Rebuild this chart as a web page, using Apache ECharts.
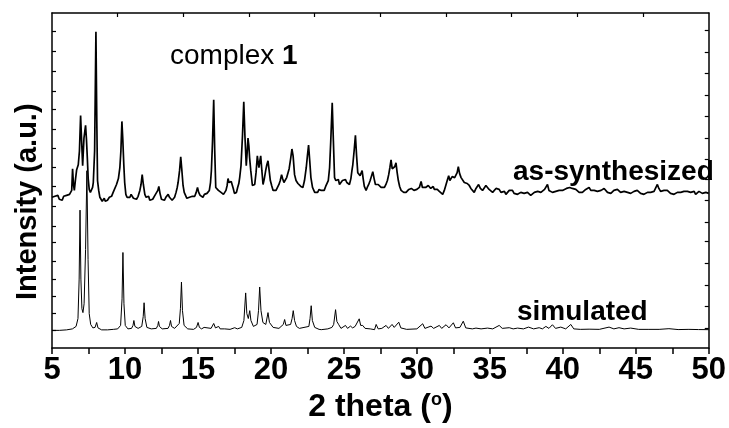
<!DOCTYPE html>
<html>
<head>
<meta charset="utf-8">
<script src="https://cdn.jsdelivr.net/npm/echarts@6/dist/echarts.min.js"></script>
<style>html,body{margin:0;padding:0;background:#fff}#c{width:729px;height:428px}</style>
</head>
<body>
<div id="c"></div>
<script>
// ---- data: [2 theta, intensity (offset, arbitrary units)] ----
const xTicks = [5, 10, 15, 20, 25, 30, 35, 40, 45, 50];
const asSynthesized = [
[5.00,153],[5.10,151],[5.20,154],[5.30,152],[5.40,155],[5.50,151],[5.60,153],[5.70,150],[5.80,154],[5.90,152],
[6.00,155],[6.10,153],[6.20,156],[6.30,158],[6.35,160],[6.41,182],[6.47,166],[6.53,160],[6.60,170],[6.69,181],
[6.80,186],[6.88,200],[6.96,236],[7.03,210],[7.10,185],[7.19,213],[7.30,226],[7.36,212],[7.42,193],[7.48,172],
[7.55,161],[7.63,158],[7.71,160],[7.78,163],[7.83,168],[7.92,200],[8.01,321],[8.07,230],[8.12,170],[8.20,160],
[8.28,153],[8.36,151],[8.44,149],[8.51,150],[8.58,152],[8.65,149],[8.72,151],[8.80,150],[8.85,151],[8.93,153],
[9.00,151],[9.08,154],[9.19,158],[9.30,160],[9.42,166],[9.55,172],[9.65,183],[9.72,200],[9.79,230],[9.85,212],
[9.92,186],[9.98,168],[10.06,156],[10.14,153],[10.22,155],[10.34,153],[10.42,156],[10.50,156],[10.58,152],[10.68,154],
[10.79,151],[10.90,154],[11.02,160],[11.10,166],[11.18,176],[11.26,166],[11.36,156],[11.45,153],[11.55,151],[11.62,154],
[11.70,150],[11.80,152],[11.90,151],[11.98,153],[12.05,155],[12.15,156],[12.25,160],[12.32,164],[12.40,157],[12.50,151],
[12.60,152],[12.70,150],[12.80,153],[12.88,154],[12.96,156],[13.05,153],[13.15,152],[13.23,150],[13.30,151],[13.40,153],
[13.50,158],[13.58,163],[13.64,168],[13.74,180],[13.82,194],[13.90,180],[13.98,165],[14.06,158],[14.15,155],[14.24,152],
[14.32,151],[14.42,153],[14.52,152],[14.62,154],[14.70,153],[14.78,154],[14.88,158],[14.97,163],[15.05,158],[15.15,155],
[15.24,155],[15.34,153],[15.44,156],[15.55,155],[15.62,157],[15.69,156],[15.78,160],[15.86,168],[15.92,180],[16.00,210],
[16.08,252],[16.15,200],[16.22,163],[16.30,162],[16.40,160],[16.49,160],[16.58,158],[16.66,159],[16.75,156],[16.83,156],
[16.92,160],[17.00,165],[17.06,172],[17.13,168],[17.20,166],[17.28,169],[17.33,168],[17.42,162],[17.50,157],[17.56,155],
[17.64,158],[17.72,163],[17.80,167],[17.86,173],[17.95,185],[18.05,215],[18.14,250],[18.22,215],[18.31,185],[18.37,198],
[18.43,213],[18.49,205],[18.54,193],[18.62,180],[18.73,165],[18.81,164],[18.89,166],[18.98,178],[19.07,195],[19.13,188],
[19.18,183],[19.24,190],[19.30,195],[19.38,180],[19.46,166],[19.55,172],[19.64,180],[19.72,186],[19.80,190],[19.88,180],
[19.96,170],[20.05,165],[20.15,160],[20.26,158],[20.35,160],[20.45,163],[20.55,166],[20.64,170],[20.73,176],[20.80,172],
[20.89,168],[20.98,170],[21.08,173],[21.16,175],[21.25,182],[21.35,192],[21.44,202],[21.52,195],[21.62,176],[21.72,170],
[21.85,167],[21.95,166],[22.05,164],[22.19,163],[22.30,170],[22.42,183],[22.50,195],[22.58,206],[22.66,190],[22.74,173],
[22.85,163],[23.00,158],[23.10,160],[23.20,158],[23.30,161],[23.45,160],[23.55,162],[23.65,160],[23.75,164],[23.83,164],
[23.93,170],[24.02,183],[24.10,210],[24.20,249],[24.28,210],[24.36,173],[24.45,170],[24.55,168],[24.62,171],[24.70,166],
[24.80,168],[24.90,170],[25.00,168],[25.11,171],[25.20,168],[25.30,167],[25.38,166],[25.48,172],[25.55,180],[25.61,186],
[25.70,200],[25.79,216],[25.87,195],[25.95,178],[26.03,176],[26.11,175],[26.18,176],[26.25,180],[26.32,172],[26.40,164],
[26.52,160],[26.60,163],[26.70,166],[26.80,170],[26.90,175],[26.98,179],[27.07,172],[27.16,166],[27.25,164],[27.35,166],
[27.44,164],[27.55,163],[27.65,165],[27.78,163],[27.88,166],[27.98,170],[28.07,176],[28.15,183],[28.23,191],[28.31,182],
[28.39,180],[28.48,184],[28.57,188],[28.65,178],[28.73,170],[28.82,164],[28.92,160],[29.00,159],[29.10,158],[29.18,160],
[29.26,158],[29.35,160],[29.45,161],[29.55,159],[29.62,162],[29.71,161],[29.80,160],[29.90,162],[30.00,161],[30.08,163],
[30.17,163],[30.29,169],[30.38,163],[30.51,161],[30.60,163],[30.70,162],[30.78,165],[30.85,166],[30.95,162],[31.05,161],
[31.12,164],[31.20,161],[31.30,160],[31.40,161],[31.54,159],[31.65,157],[31.77,156],[31.88,160],[32.00,166],[32.10,171],
[32.18,175],[32.26,170],[32.34,171],[32.42,174],[32.50,176],[32.59,173],[32.68,173],[32.76,178],[32.84,184],[32.93,177],
[33.03,173],[33.12,171],[33.25,168],[33.35,166],[33.45,167],[33.59,165],[33.70,162],[33.80,160],[33.93,158],[34.05,162],
[34.15,164],[34.23,166],[34.35,162],[34.50,160],[34.62,162],[34.73,165],[34.84,164],[34.95,161],[35.05,159],[35.19,158],
[35.30,160],[35.42,162],[35.52,160],[35.64,161],[35.76,158],[35.88,157],[36.00,159],[36.10,156],[36.22,158],[36.33,160],
[36.45,158],[36.55,160],[36.66,157],[36.78,158],[36.90,156],[37.00,156],[37.12,158],[37.23,160],[37.35,157],[37.47,159],
[37.58,158],[37.70,157],[37.80,155],[37.92,156],[38.05,158],[38.15,157],[38.28,159],[38.38,160],[38.50,158],[38.62,160],
[38.75,161],[38.85,163],[38.95,166],[39.05,160],[39.17,159],[39.29,158],[39.40,157],[39.52,159],[39.63,160],[39.75,160],
[39.86,158],[39.98,160],[40.10,161],[40.25,162],[40.38,161],[40.47,163],[40.55,165],[40.65,162],[40.77,160],[40.89,161],
[41.00,160],[41.12,158],[41.22,159],[41.34,158],[41.45,160],[41.57,161],[41.68,159],[41.80,163],[41.92,160],[42.05,158],
[42.15,160],[42.26,158],[42.37,159],[42.50,161],[42.62,160],[42.72,162],[42.83,162],[42.95,160],[43.06,158],[43.18,159],
[43.29,157],[43.39,158],[43.50,160],[43.62,159],[43.74,161],[43.85,160],[43.96,158],[44.08,160],[44.20,159],[44.31,160],
[44.43,158],[44.54,159],[44.65,157],[44.76,157],[44.88,159],[45.00,158],[45.10,160],[45.22,158],[45.33,157],[45.45,158],
[45.56,156],[45.68,156],[45.80,158],[45.91,157],[46.02,158],[46.13,157],[46.25,159],[46.38,161],[46.48,166],[46.58,162],
[46.70,159],[46.82,158],[46.94,160],[47.05,158],[47.16,160],[47.27,159],[47.38,157],[47.50,158],[47.62,156],[47.73,156],
[47.85,158],[47.96,157],[48.08,158],[48.19,157],[48.30,159],[48.42,160],[48.54,159],[48.64,161],[48.76,158],[48.88,157],
[49.00,159],[49.10,156],[49.22,157],[49.33,159],[49.44,157],[49.56,157],[49.68,158],[49.80,158],[50.00,157]
];
const simulated = [
[5.00,18],[5.50,18],[6.00,18.5],[6.40,19.5],[6.65,22],[6.78,30],[6.86,70],[6.92,140],[6.98,70],[7.05,40],
[7.12,36],[7.20,45],[7.30,100],[7.39,180],[7.47,90],[7.55,35],[7.65,24],[7.80,20.5],[7.95,21],[8.06,26],
[8.15,20.5],[8.40,18.5],[8.80,18.5],[9.20,19],[9.50,19.5],[9.70,23],[9.80,50],[9.86,97],[9.93,45],[10.02,23],
[10.20,19.5],[10.45,20],[10.55,23],[10.61,28],[10.68,22],[10.90,20],[11.15,22],[11.25,32],[11.31,46],[11.38,30],
[11.50,21],[11.80,19.5],[12.15,20],[12.25,23],[12.30,27],[12.36,22],[12.55,19.5],[12.95,20],[13.05,23],[13.12,28],
[13.19,22],[13.40,20],[13.72,25],[13.80,40],[13.87,67],[13.94,38],[14.05,23],[14.30,19.5],[14.70,19],[14.90,21],
[15.01,26],[15.10,21],[15.25,19.5],[15.42,21],[15.55,19.5],[15.90,20],[16.08,25],[16.20,20.5],[16.33,20.5],[16.42,22],
[16.52,19.5],[16.83,19.5],[17.20,19],[17.52,20.7],[17.70,19.5],[18.00,21],[18.15,28],[18.27,56],[18.35,35],[18.45,30],
[18.55,38],[18.63,28],[18.80,22],[19.05,24],[19.15,38],[19.23,62],[19.32,38],[19.45,26],[19.65,24],[19.80,36],
[19.90,26],[20.03,28],[20.15,21],[20.55,20],[20.85,24],[20.94,29],[21.03,23],[21.35,24],[21.45,30],[21.53,38],
[21.62,28],[21.75,22],[21.80,24],[21.95,20],[22.60,22],[22.68,30],[22.76,43],[22.84,28],[23.00,21],[23.30,19],
[23.45,18.7],[23.90,19.5],[24.18,21],[24.30,24],[24.43,39],[24.52,27],[24.65,23.7],[24.80,20],[25.11,23],[25.25,20],
[25.45,22.3],[25.60,20.5],[25.77,22],[25.90,21],[26.05,29.7],[26.15,23],[26.29,23],[26.45,20],[26.80,19.5],[27.10,18.7],
[27.21,24],[27.35,19.5],[27.60,20],[27.89,23],[28.05,20],[28.30,24],[28.45,21],[28.76,26.3],[28.90,20.5],[29.30,19],
[30.00,19.5],[30.40,24.7],[30.55,20],[30.97,22.3],[31.15,20],[31.54,23],[31.70,20],[32.00,23.7],[32.20,20.5],[32.50,25.7],
[32.65,20.5],[32.95,21],[33.18,27.3],[33.35,20.5],[33.80,19.5],[34.05,20.3],[34.40,19.5],[34.84,20.3],[35.20,19.5],[35.64,23],
[35.85,20],[36.33,20.7],[36.60,19.5],[36.90,20.3],[37.30,19.5],[37.65,21.3],[38.00,19.5],[38.38,20.7],[38.60,19.5],[38.84,22],
[39.05,20],[39.29,23.7],[39.50,20],[39.86,21.3],[40.20,19.5],[40.55,24],[40.75,19.5],[41.20,19],[41.80,19.2],[42.50,19],
[43.17,21.3],[43.50,19.5],[43.85,20.7],[44.20,19.5],[44.65,20.3],[45.20,19],[45.90,19],[46.60,19],[47.27,19.7],[47.90,18.8],
[48.64,19],[49.30,18.8],[50.00,18.7]
];
const leftTickValues = [18, 35, 53, 70, 88, 107, 124, 144, 164, 183, 203, 222, 242, 261, 281, 301, 321];
const rightTickValues = [20, 42, 64, 86, 108, 128, 150, 171, 192, 213, 235, 257, 279, 300, 322];
const topTickValues = [9.5, 14, 18.5, 23, 27.5, 32, 36.5, 41, 45.5];

const chart = echarts.init(document.getElementById('c'), null, {renderer: 'canvas'});
const narrow = "'Liberation Sans Narrow', 'Arial Narrow', 'Liberation Sans', Arial, sans-serif";
const sans = "'Liberation Sans', Arial, sans-serif";
const axisLine = {show: true, onZero: false, lineStyle: {color: '#000', width: 1.5}};
chart.setOption({
  animation: false,
  backgroundColor: '#fff',
  grid: {left: 52, right: 19, top: 13, bottom: 75, containLabel: false},
  xAxis: [{
    type: 'value', min: 5, max: 50, interval: 5, position: 'bottom',
    axisLine: axisLine,
    axisTick: {show: true, inside: false, length: 6, lineStyle: {color: '#000', width: 1.5}},
    minorTick: {show: true, splitNumber: 2, length: 6, lineStyle: {color: '#000', width: 1.5}},
    splitLine: {show: false},
    axisLabel: {show: true, color: '#000', fontFamily: narrow, fontWeight: 'bold', fontSize: 31, margin: 7,
      customValues: xTicks},
    name: '2 theta ({s|o})', nameLocation: 'middle', nameGap: 37,
    nameTextStyle: {color: '#000', fontFamily: narrow, fontWeight: 'bold', fontSize: 32,
      rich: {s: {fontFamily: narrow, fontWeight: 'bold', fontSize: 18, verticalAlign: 'top', padding: [0, 0, 14, 0]}}}
  }, {
    type: 'value', min: 5, max: 50, position: 'top',
    axisLine: axisLine,
    axisTick: {show: true, inside: true, length: 4, customValues: topTickValues, lineStyle: {color: '#000', width: 1.2}},
    axisLabel: {show: false}, splitLine: {show: false}
  }],
  yAxis: [{
    type: 'value', min: 0, max: 340, position: 'left',
    axisLine: axisLine,
    axisTick: {show: true, inside: true, length: 4, customValues: leftTickValues, lineStyle: {color: '#000', width: 1.2}},
    axisLabel: {show: false}, splitLine: {show: false}
  }, {
    type: 'value', min: 0, max: 340, position: 'right',
    axisLine: axisLine,
    axisTick: {show: true, inside: true, length: 4, customValues: rightTickValues, lineStyle: {color: '#000', width: 1.2}},
    axisLabel: {show: false}, splitLine: {show: false}
  }],
  series: [{
    name: 'simulated', type: 'line', data: simulated, showSymbol: false, symbol: 'none',
    lineStyle: {color: '#000', width: 1}, z: 3
  }, {
    name: 'as-synthesized', type: 'line', data: asSynthesized, showSymbol: false, symbol: 'none',
    lineStyle: {color: '#000', width: 1.7}, z: 4
  }],
  graphic: [
    {type: 'text', left: 170, top: 42, z: 10, style: {
      text: '{n|complex }{b|1}', fill: '#000',
      rich: {n: {fontFamily: sans, fontSize: 28, fill: '#000'}, b: {fontFamily: sans, fontSize: 28, fontWeight: 'bold', fill: '#000'}}}},
    {type: 'text', left: 513, top: 158, z: 10, style: {text: 'as-synthesized', fontFamily: sans, fontWeight: 'bold', fontSize: 28, fill: '#000'}},
    {type: 'text', left: 517, top: 298, z: 10, style: {text: 'simulated', fontFamily: sans, fontWeight: 'bold', fontSize: 28, fill: '#000'}},
    {type: 'text', x: 13, y: 300, rotation: Math.PI / 2, z: 10, style: {text: 'Intensity (a.u.)', fontFamily: sans, fontWeight: 'bold', fontSize: 29, fill: '#000'}}
  ]
});
</script>
</body>
</html>
